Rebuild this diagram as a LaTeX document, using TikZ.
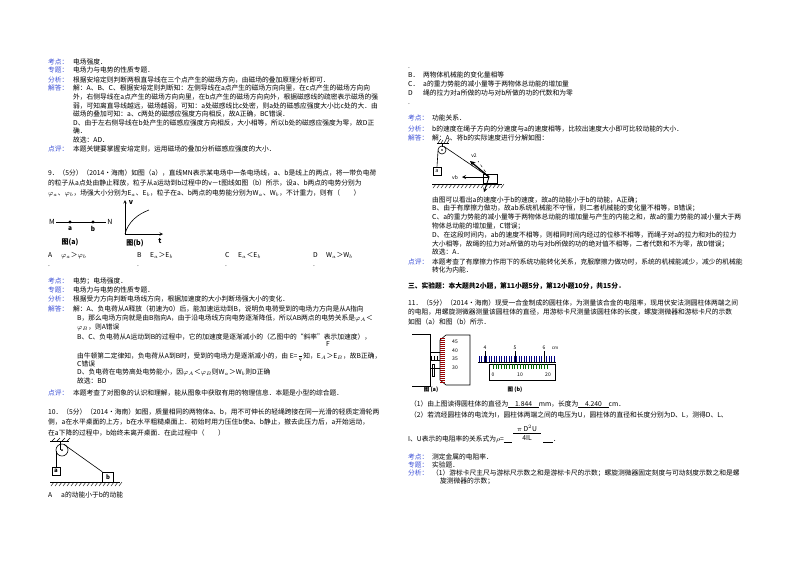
\documentclass[tikz,border=0pt]{standalone}
\usepackage{fontspec}
\setmainfont{Noto Sans CJK SC}
\usetikzlibrary{patterns}
\definecolor{lab}{RGB}{60,80,215}
\newcount\tc
\newcommand\T[3]{\global\advance\tc by 1\relax\node[txt] (t\the\tc) at (#1,#2) {#3};}
\newcommand\Lb[3]{\global\advance\tc by 1\relax\node[txt,text=lab] (t\the\tc) at (#1,#2) {#3};}
\tikzset{txt/.style={anchor=base west,inner sep=0pt,font=\fontsize{6.75}{8}\selectfont},
 fig/.style={line width=0.6pt},
 hatchl/.style={line width=0.4pt}}
\begin{document}
\begin{tikzpicture}[x=1pt,y=-1pt]
\useasboundingbox (0,0) rectangle (800,566);
\fill[white] (0,0) rectangle (800,566);
% ---------------- left column top
\Lb{48}{64}{考点：}\T{73}{64}{电场强度．}
\Lb{48}{72}{专题：}\T{73}{72}{电场力与电势的性质专题．}
\Lb{48}{82}{分析：}\T{73}{82}{根据安培定则判断两根直导线在三个点产生的磁场方向，由磁场的叠加原理分析即可．}
\Lb{48}{90}{解答：}\T{73}{90}{解：A、B、C、根据安培定则判断知：左侧导线在a点产生的磁场方向向里，在c点产生的磁场方向向}
\T{73}{99}{外，右侧导线在a点产生的磁场方向向里，在b点产生的磁场方向向外，根据磁感线的疏密表示磁场的强}
\T{73}{108}{弱，可知离直导线越远，磁场越弱，可知：a处磁感线比c处密，则a处的磁感应强度大小比c处的大．由}
\T{73}{116}{磁场的叠加可知：a、c两处的磁感应强度方向相反，故A正确，BC错误．}
\T{73}{125}{D、由于左右侧导线在b处产生的磁感应强度方向相反，大小相等，所以b处的磁感应强度为零，故D正}
\T{73}{133}{确．}
\T{73}{142}{故选：AD．}
\Lb{48}{151}{点评：}\T{73}{151}{本题关键要掌握安培定则，运用磁场的叠加分析磁感应强度的大小．}
% Q9
\T{48}{175}{9．（5分）（2014•海南）如图（a），直线MN表示某电场中一条电场线，a、b是线上的两点，将一带负电荷}
\T{48}{185}{的粒子从a点处由静止释放，粒子从a运动到b过程中的v－t图线如图（b）所示，设a、b两点的电势分别为}
\T{48}{195}{$\varphi_a$、$\varphi_b$，场强大小分别为E$_a$、E$_b$，粒子在a、b两点的电势能分别为W$_a$、W$_b$，不计重力，则有（　　）}
% fig a
\node[font=\itshape\fontsize{7}{8}\selectfont,inner sep=1pt] (M) at (52,222) {M};
\node[font=\itshape\fontsize{7}{8}\selectfont,inner sep=1pt] (N) at (110,222) {N};
\draw[fig] (M) -- (N);
\fill (70,222) circle (1.6) coordinate (pa);
\fill (93,222) circle (1.6) coordinate (pb);
\node[font=\itshape\bfseries\fontsize{6.5}{8}\selectfont] (la) at (70,229) {a};
\node[font=\itshape\bfseries\fontsize{6.5}{8}\selectfont] (lb) at (93,229) {b};
\node[font=\bfseries\fontsize{7}{8}\selectfont] (ca) at (70,242) {图(a)};
% fig b
\coordinate (O) at (125,234);
\coordinate (vt) at (125,200);
\coordinate (tt) at (163,234);
\draw[fig,->,>=stealth] (O) -- (vt);
\draw[fig,->,>=stealth] (O) -- (tt);
\node[font=\itshape\bfseries\fontsize{7}{8}\selectfont] (vl) at (131,203) {v};
\node[font=\itshape\bfseries\fontsize{7}{8}\selectfont] (tl) at (160,241) {t};
\draw[fig] (O) .. controls (128,222) and (138,214) .. (149,210);
\node[font=\bfseries\fontsize{7}{8}\selectfont] (cb) at (135,243) {图(b)};
\T{48}{257}{A}\T{61}{257}{$\varphi_a$＞$\varphi_b$}
\T{137}{257}{B}\T{150}{257}{E$_a$＞E$_b$}
\T{225}{257}{C}\T{238}{257}{E$_a$＜E$_b$}
\T{313}{257}{D}\T{326}{257}{W$_a$＞W$_b$}
\T{48}{266}{.}\T{137}{266}{.}\T{225}{266}{.}\T{313}{266}{.}
\Lb{48}{283}{考点：}\T{73}{283}{电势；电场强度．}
\Lb{48}{292}{专题：}\T{73}{292}{电场力与电势的性质专题．}
\Lb{48}{301}{分析：}\T{73}{301}{根据受力方向判断电场线方向，根据加速度的大小判断场强大小的变化．}
\Lb{48}{311}{解答：}\T{73}{311}{解：A、负电荷从A释放（初速为0）后，能加速运动到B，说明负电荷受到的电场力方向是从A指向}
\T{77}{320}{B，那么电场方向就是由B指向A，由于沿电场线方向电势逐渐降低，所以AB两点的电势关系是$\varphi_A$＜}
\T{77}{329}{$\varphi_B$，则A错误}
\T{77}{339}{B、C、负电荷从A运动到B的过程中，它的加速度是逐渐减小的（乙图中的“斜率”表示加速度），}
\T{326}{346}{F}
\T{77}{358}{由牛顿第二定律知，负电荷从A到B时，受到的电场力是逐渐减小的，由 E=$\frac{\,}{q}$知，E$_A$＞E$_B$，故B正确，}
\T{77}{366}{C错误}
\T{77}{374}{D、负电荷在电势高处电势能小，因$\varphi_A$＜$\varphi_B$则W$_a$＞W$_b$则D正确}
\T{77}{383}{故选：BD}
\Lb{48}{395}{点评：}\T{73}{395}{本题考查了对图象的认识和理解，能从图象中获取有用的物理信息．本题是小型的综合题．}
% Q10
\T{48}{414}{10．（5分）（2014•海南）如图，质量相同的两物体a、b，用不可伸长的轻绳跨接在同一光滑的轻质定滑轮两}
\T{48}{424}{侧，a在水平桌面的上方，b在水平粗糙桌面上．初始时用力压住b使a、b静止，撤去此压力后，a开始运动，}
\T{48}{435}{在a下降的过程中，b始终未离开桌面．在此过程中（　　）}
% figure Q10
\draw[fig] (50,441) -- (69,441);
\foreach \i in {52,57,...,67} \draw[hatchl] (\i,441) -- (\i+3,438);
\draw[fig] (60,441) -- (60,450);
\draw[fig] (62,450) circle (6);
\fill (62,450) circle (1);
\node[draw,fig,minimum size=8pt,inner sep=0pt,font=\itshape\bfseries\fontsize{6}{7}\selectfont] (ba) at (56,471) {a};
\node[draw,fig,minimum width=11pt,minimum height=10pt,inner sep=0pt,font=\itshape\bfseries\fontsize{6}{7}\selectfont] (bb) at (108,477) {b};
\draw[fig] (56,451) -- (ba.north);
\draw[fig] (64,444.5) -- (bb.north west);
\draw[fig] (50,482) -- (120,482);
\foreach \i in {51,55,...,119} \draw[hatchl] (\i,486) -- (\i+3,482);
\T{48}{497}{A}\T{61}{497}{a的动能小于b的动能}
% ---------------- right column
\T{408}{68}{.}
\T{408}{77}{B．}\T{423}{77}{两物体机械能的变化量相等}
\T{408}{86}{C．}\T{423}{86}{a的重力势能的减小量等于两物体总动能的增加量}
\T{408}{95}{D}\T{423}{95}{绳的拉力对a所做的功与对b所做的功的代数和为零}
\T{408}{104}{.}
\Lb{408}{120}{考点：}\T{432}{120}{功能关系．}
\Lb{408}{131}{分析：}\T{432}{131}{b的速度在绳子方向的分速度与a的速度相等，比较出速度大小即可比较动能的大小．}
\Lb{408}{140}{解答：}\T{432}{140}{解：A、将b的实际速度进行分解如图：}
% figure pulley velocity
\draw[fig] (437,143) -- (449,143);
\foreach \i in {438,441,...,447} \draw[hatchl] (\i,143) -- (\i+2,140);
\draw[fig] (442,143) -- (442,147);
\draw[fig] (442,150) circle (4);
\fill (442,150) circle (0.8);
\node[draw,fig,minimum size=8pt,inner sep=0pt,font=\itshape\fontsize{5.5}{6}\selectfont] (ra) at (437,171) {a};
\draw[fig] (438,151) -- (ra.north);
\node[draw,fig,minimum width=14pt,minimum height=9pt,inner sep=0pt] (rb) at (490,179) {};
\coordinate (bp) at (489,177);
\draw[fig] (444,146.5) -- (bp);
\draw[line width=1.3pt,-stealth] (bp) -- (470,161);
\node[font=\fontsize{5}{6}\selectfont] (v2) at (474,156) {v2};
\draw[line width=0.8pt,-stealth] (bp) -- (462,177);
\node[font=\fontsize{5}{6}\selectfont] (vb) at (455,178) {vb};
\draw[line width=0.8pt,-stealth] (bp) -- (484,192);
\draw[hatchl,dashed] (bp) -- (478,161);
\draw[fig] (432,184) -- (502,184);
\foreach \i in {433,437,...,501} \draw[hatchl] (\i,188) -- (\i+3,184);
\T{432}{202}{由图可以看出a的速度小于b的速度，故a的动能小于b的动能，A正确；}
\T{432}{210}{B、由于有摩擦力做功，故ab系统机械能不守恒，则二者机械能的变化量不相等，B错误；}
\T{432}{219}{C、a的重力势能的减小量等于两物体总动能的增加量与产生的内能之和，故a的重力势能的减小量大于两}
\T{432}{228}{物体总动能的增加量，C错误；}
\T{432}{237}{D、在这段时间内，ab的速度不相等，则相同时间内经过的位移不相等，而绳子对a的拉力和对b的拉力}
\T{432}{246}{大小相等，故绳的拉力对a所做的功与对b所做的功的绝对值不相等，二者代数和不为零，故D错误；}
\T{432}{254}{故选：A．}
\Lb{408}{264}{点评：}\T{432}{264}{本题考查了有摩擦力作用下的系统功能转化关系，克服摩擦力做功时，系统的机械能减少，减少的机械能}
\T{432}{272}{转化为内能．}
\node[txt,font=\bfseries\fontsize{6.75}{8}\selectfont] (sec3) at (408,288) {三、实验题：本大题共2小题，第11小题5分，第12小题10分，共15分．};
\T{408}{305}{11．（5分）（2014•海南）现受一合金制成的圆柱体，为测量该合金的电阻率，现用伏安法测圆柱体两端之间}
\T{408}{314}{的电阻，用螺旋测微器测量该圆柱体的直径，用游标卡尺测量该圆柱体的长度，螺旋测微器和游标卡尺的示数}
\T{408}{324}{如图（a）和图（b）所示．}
% micrometer (a)
\draw[fig] (412,334) -- (430,334) -- (430,386) -- (412,386);
\draw[fig] (430,352) -- (440,352) (430,368) -- (440,368);
\draw[fig] (431,360) -- (440,360);
\foreach \i in {431,434,437} \draw[hatchl] (\i,360) -- (\i,356);
\draw[fig] (440,340) -- (446,335) -- (470,335) -- (470,385) -- (446,385) -- (440,380) -- cycle;
\foreach \j in {338,340,...,382} \draw[hatchl,red!60!black] (440,\j) -- (445,\j);
\foreach \j/\n in {342/45,351/40,359/35,368/30} \node[font=\fontsize{5}{6}\selectfont,inner sep=0pt] (m\n) at (455,\j) {\n};
\draw[fig] (432,364) rectangle (434,376);
\node[font=\bfseries\fontsize{5.5}{6}\selectfont] (cpa) at (431,390) {图 (a)};
% vernier (b)
\draw[fig] (478,362) -- (556,362);
\foreach \i in {479,481.5,...,556} \draw[hatchl,blue!50!black] (\i,362) -- (\i,356);
\foreach \i in {485,515,544} \draw[fig] (\i,362) -- (\i,351);
\node[font=\fontsize{5}{6}\selectfont] (n4) at (485,348) {4};
\node[font=\fontsize{5}{6}\selectfont] (n5) at (515,348) {5};
\node[font=\fontsize{5}{6}\selectfont] (n6) at (544,348) {6};
\node[font=\fontsize{4.5}{6}\selectfont] (ncm) at (555,348) {cm};
\draw[fig] (489,364) rectangle (555,380);
\foreach \i in {493,495.7,...,549} \draw[hatchl,green!40!black] (\i,364) -- (\i,369);
\node[font=\fontsize{5}{6}\selectfont] (v0) at (493,375) {0};
\node[font=\fontsize{5}{6}\selectfont] (v10) at (520,375) {10};
\node[font=\fontsize{5}{6}\selectfont] (v20) at (548,375) {20};
\node[font=\bfseries\fontsize{5.5}{6}\selectfont] (cpb) at (515,390) {图 (b)};
\T{410}{406}{（1）由上图读得圆柱体的直径为\underline{\quad 1.844\quad }mm，长度为\underline{\quad 4.240\quad }cm．}
\T{410}{417}{（2）若流经圆柱体的电流为I，圆柱体两端之间的电压为U，圆柱体的直径和长度分别为D、L，测得D、L、}
\node[font=\fontsize{6.75}{8}\selectfont,inner sep=0pt] (num) at (527,428) {$\pi$ D$^2$U};
\draw[line width=0.4pt] (513,433) -- (541,433);
\node[font=\fontsize{6.75}{8}\selectfont,inner sep=0pt] (den) at (527,438) {4IL};
\T{408}{441}{I、U表示的电阻率的关系式为$\rho$=\underline{\quad\ }}
\draw[line width=0.4pt] (543,442) -- (553,442);
\T{553}{441}{．}
\Lb{408}{459}{考点：}\T{432}{459}{测定金属的电阻率．}
\Lb{408}{467}{专题：}\T{432}{467}{实验题．}
\Lb{408}{475}{分析：}\T{432}{475}{（1）游标卡尺主尺与游标尺示数之和是游标卡尺的示数；螺旋测微器固定刻度与可动刻度示数之和是螺}
\T{440}{483}{旋测微器的示数；}
\end{tikzpicture}
\end{document}
